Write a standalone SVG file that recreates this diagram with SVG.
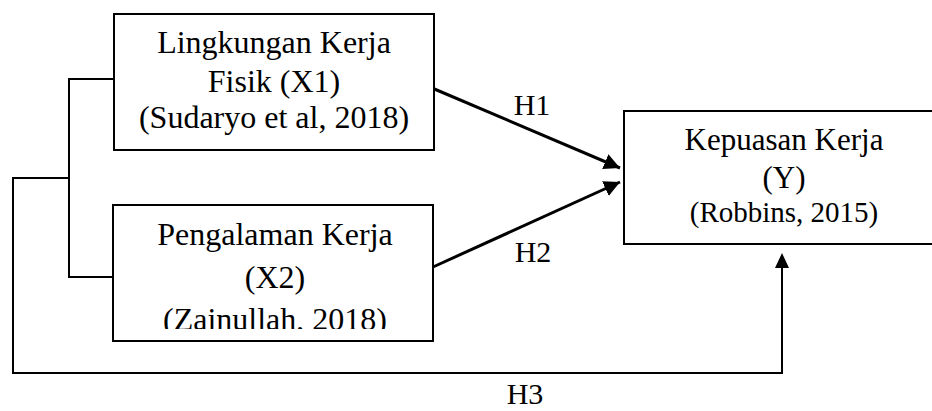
<svg xmlns="http://www.w3.org/2000/svg" width="932" height="411" viewBox="0 0 932 411">
<style>
.box{fill:#fff;stroke:#000;stroke-width:2}
.t{font-family:"Liberation Serif","Times New Roman",serif;fill:#000;text-anchor:middle}
.c{fill:none;stroke:#000;stroke-width:2}
.a{fill:none;stroke:#000;stroke-width:3}
</style>
<defs>
<marker id="ah" markerUnits="userSpaceOnUse" markerWidth="18" markerHeight="16" refX="16" refY="8" orient="auto">
<path d="M0,0 L16,8 L0,16 Z" fill="#000"/>
</marker>
<clipPath id="clipX2"><rect x="113" y="205" width="320" height="124"/></clipPath>
</defs>
<rect width="932" height="411" fill="#fff"/>
<g id="connectors">
<polyline class="c" points="113,79 69,79 69,277 113,277"/>
<polyline class="c" points="69,178 13,178 13,373 782,373 782,268"/>
<line class="a" x1="432" y1="88" x2="620" y2="168" marker-end="url(#ah)"/>
<line class="a" x1="433" y1="267" x2="620" y2="182" marker-end="url(#ah)"/>
<path d="M775,268 L782,253 L789,268 Z" fill="#000"/>
<text class="t" x="532" y="115" font-size="30">H1</text>
<text class="t" x="533" y="262" font-size="30">H2</text>
<text class="t" x="525" y="404" font-size="30">H3</text>
</g>
<g id="x1">
<rect class="box" x="114" y="14" width="320" height="136"/>
<text class="t" x="274" y="53" font-size="32">Lingkungan Kerja</text>
<text class="t" x="274" y="92" font-size="32">Fisik (X1)</text>
<text class="t" x="274" y="128" font-size="32">(Sudaryo et al, 2018)</text>
</g>
<g id="x2">
<rect class="box" x="113" y="205" width="320" height="136"/>
<g clip-path="url(#clipX2)">
<text class="t" x="275" y="245" font-size="32">Pengalaman Kerja</text>
<text class="t" x="275" y="288" font-size="32">(X2)</text>
<text class="t" x="275" y="330" font-size="32">(Zainullah, 2018)</text>
</g>
</g>
<g id="y">
<rect class="box" x="624" y="111" width="320" height="133"/>
<text class="t" x="784" y="150" font-size="31">Kepuasan Kerja</text>
<text class="t" x="784" y="188" font-size="31">(Y)</text>
<text class="t" x="784" y="222" font-size="29">(Robbins, 2015)</text>
</g>
</svg>
